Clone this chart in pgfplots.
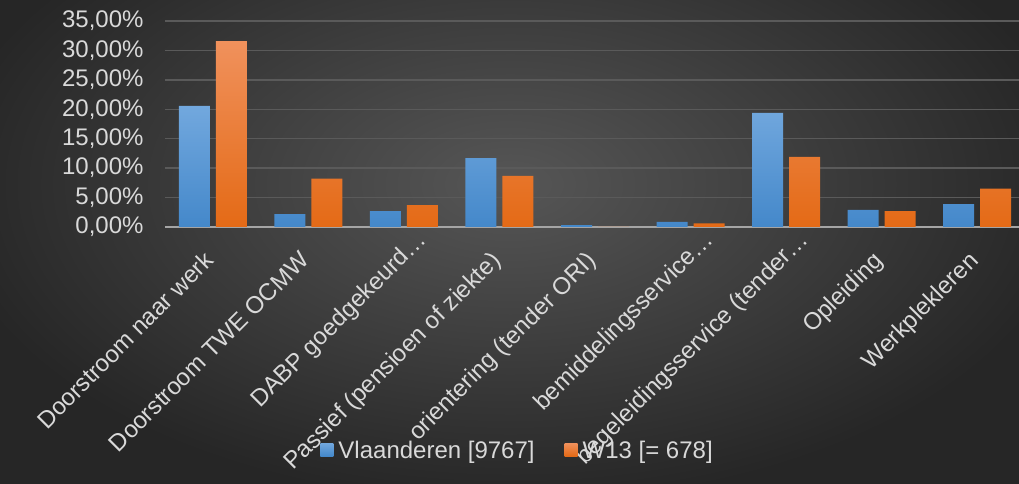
\documentclass[border=0pt]{standalone}
\usepackage{fontspec}
\setmainfont{Liberation Sans}
\usepackage{pgfplots}
\pgfplotsset{compat=1.18}
\definecolor{txt}{RGB}{217,217,217}
\definecolor{gridc}{RGB}{90,90,90}
\definecolor{basec}{RGB}{165,165,165}
\definecolor{bgin}{RGB}{86,86,86}
\definecolor{bgout}{RGB}{38,38,38}
\definecolor{bluetop}{RGB}{114,168,222}
\definecolor{bluebot}{RGB}{68,136,202}
\definecolor{orgtop}{RGB}{240,145,92}
\definecolor{orgbot}{RGB}{228,106,22}
\begin{document}
\begin{tikzpicture}[x=1pt,y=1pt]
\path[use as bounding box] (0,0) rectangle (1019,484);
\shade[inner color=bgin, outer color=bgout] (-60,-20) rectangle (1080,620);
\begin{axis}[
  at={(165pt,257pt)}, anchor=south west,
  scale only axis, width=860pt, height=206pt,
  xmin=-0.5, xmax=8.5, ymin=0, ymax=35,
  ybar=6pt, bar width=31pt,
  axis line style={draw=none},
  major tick length=0pt,
  ymajorgrids, grid style={gridc, line width=1.5pt},
  ytick={0,5,...,35},
  yticklabels={{0,00\%},{5,00\%},{10,00\%},{15,00\%},{20,00\%},{25,00\%},{30,00\%},{35,00\%}},
  xtick={0,...,8},
  xticklabels={Doorstroom naar werk, Doorstroom TWE OCMW, {DABP goedgekeurd…\kern-30pt}, Passief (pensioen of ziekte), orientering (tender ORI), {bemiddelingsservice…\kern-30pt}, {begeleidingsservice (tender…\kern-30pt}, Opleiding, Werkplekleren},
  ticklabel style={font=\fontsize{24}{28}\selectfont, text=txt},
  yticklabel style={xshift=-18pt},
  xticklabel style={xshift=-10pt, yshift=-18pt, rotate=45, anchor=north east},
  extra y ticks={0}, extra y tick labels={},
  extra y tick style={grid style={basec, line width=2.5pt}},
  legend columns=2,
  legend style={at={(0.41,-1.083)}, anchor=center, draw=none, fill=none,
    font=\fontsize{24}{28}\selectfont, text=txt,
    /tikz/every odd column/.append style={column sep=3pt},
    /tikz/every even column/.append style={column sep=28pt}},
  legend image code/.code={\fill[#1] (0pt,-6pt) rectangle (13pt,7pt);},
]
\addplot[draw=none, top color=bluetop, bottom color=bluebot] coordinates {
(0,20.6) (1,2.2) (2,2.7) (3,11.7) (4,0.3) (5,0.85) (6,19.4) (7,2.9) (8,3.9)};
\addplot[draw=none, top color=orgtop, bottom color=orgbot] coordinates {
(0,31.6) (1,8.2) (2,3.7) (3,8.7) (4,0.0) (5,0.6) (6,11.9) (7,2.7) (8,6.5)};
\legend{Vlaanderen [9767], W13 [= 678]}
\end{axis}
\end{tikzpicture}
\end{document}
